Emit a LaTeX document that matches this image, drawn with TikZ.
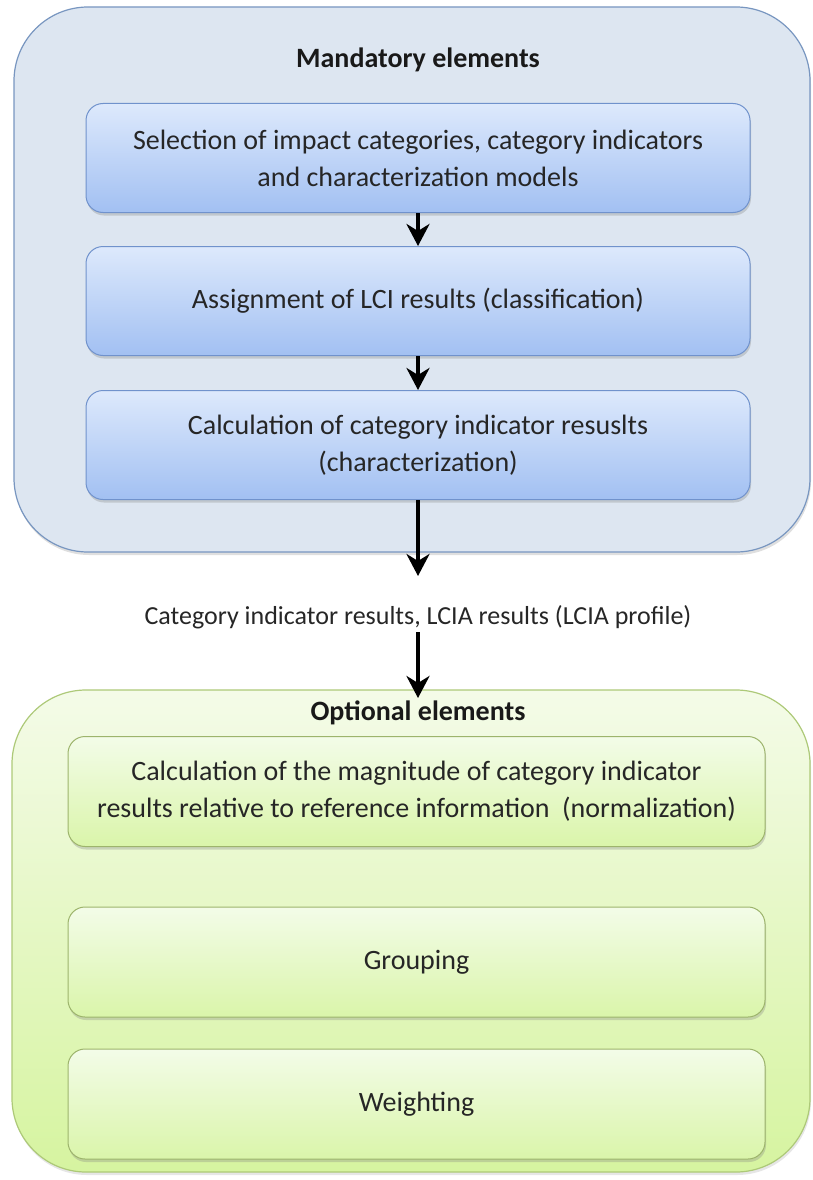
\documentclass[tikz,border=0pt]{standalone}
\usepackage{fontspec}
\setmainfont{Carlito}
\usetikzlibrary{arrows.meta,shadows}
\definecolor{obfill}{HTML}{DDE6F1}
\definecolor{obdraw}{HTML}{7896C0}
\definecolor{ibtop}{HTML}{DDE9FC}
\definecolor{ibbot}{HTML}{A2C0F2}
\definecolor{ibdraw}{HTML}{7092CC}
\definecolor{ogtop}{HTML}{F4FBE8}
\definecolor{ogbot}{HTML}{D6F4A0}
\definecolor{ogdraw}{HTML}{ADC978}
\definecolor{igtop}{HTML}{F3FCE8}
\definecolor{igbot}{HTML}{DAF5AA}
\definecolor{igdraw}{HTML}{9DB46C}
\begin{document}
\begin{tikzpicture}[x=1pt,y=-1pt,
  txt/.style={font=\fontsize{28}{37}\selectfont, align=center, text=black!85},
  ttl/.style={font=\fontsize{28}{30}\selectfont\bfseries, text=black!90},
  outerb/.style={draw=obdraw, line width=1.2pt, fill=obfill, rounded corners=74pt,
    drop shadow={shadow xshift=1pt, shadow yshift=-3pt, opacity=0.25}},
  outerg/.style={draw=ogdraw, line width=1.2pt, top color=ogtop, bottom color=ogbot, rounded corners=74pt,
    drop shadow={shadow xshift=1pt, shadow yshift=-3pt, opacity=0.2}},
  bluebox/.style={txt, draw=ibdraw, line width=1pt, top color=ibtop, bottom color=ibbot,
    rounded corners=17pt, minimum width=664pt, minimum height=109pt,
    drop shadow={shadow xshift=1pt, shadow yshift=-3pt, opacity=0.3}},
  greenbox/.style={txt, draw=igdraw, line width=1pt, top color=igtop, bottom color=igbot,
    rounded corners=17pt, minimum width=697pt, minimum height=110pt,
    drop shadow={shadow xshift=1pt, shadow yshift=-3pt, opacity=0.3}},
  arr/.style={-{Stealth[length=22pt,width=23pt,inset=7pt]}, line width=4pt, black},
]
\useasboundingbox (0,0) rectangle (812,1180);
% outer containers
\node[outerb, minimum width=796pt, minimum height=545pt] (mand) at (412,279.5) {};
\node[outerg, minimum width=798pt, minimum height=482pt] (opt) at (411,931) {};
% titles
\node[ttl] (mt) at (418,60) {Mandatory elements};
\node[ttl] (ot) at (418,713) {Optional elements};
% mandatory boxes
\node[bluebox] (b1) at (418,158) {Selection of impact categories, category indicators\\and characterization models};
\node[bluebox] (b2) at (418,301) {Assignment of LCI results (classification)};
\node[bluebox] (b3) at (418,445) {Calculation of category indicator resuslts\\(characterization)};
% label
\node[txt, font=\fontsize{26}{30}\selectfont] (lbl) at (418,617) {Category indicator results, LCIA results (LCIA profile)};
\coordinate (t1) at (418,576);
\coordinate (t2) at (418,698);
% optional boxes
\node[greenbox] (g1) at (416.5,791.5) {Calculation of the magnitude of category indicator\\results relative to reference information \ (normalization)};
\node[greenbox] (g2) at (416.5,962) {Grouping};
\node[greenbox] (g3) at (416.5,1104) {Weighting};
% arrows
\draw[arr] (b1.south) -- (b2.north);
\draw[arr] (b2.south) -- (b3.north);
\draw[arr] (b3.south) -- (t1);
\draw[arr] (lbl.south) -- (t2);
\end{tikzpicture}
\end{document}
